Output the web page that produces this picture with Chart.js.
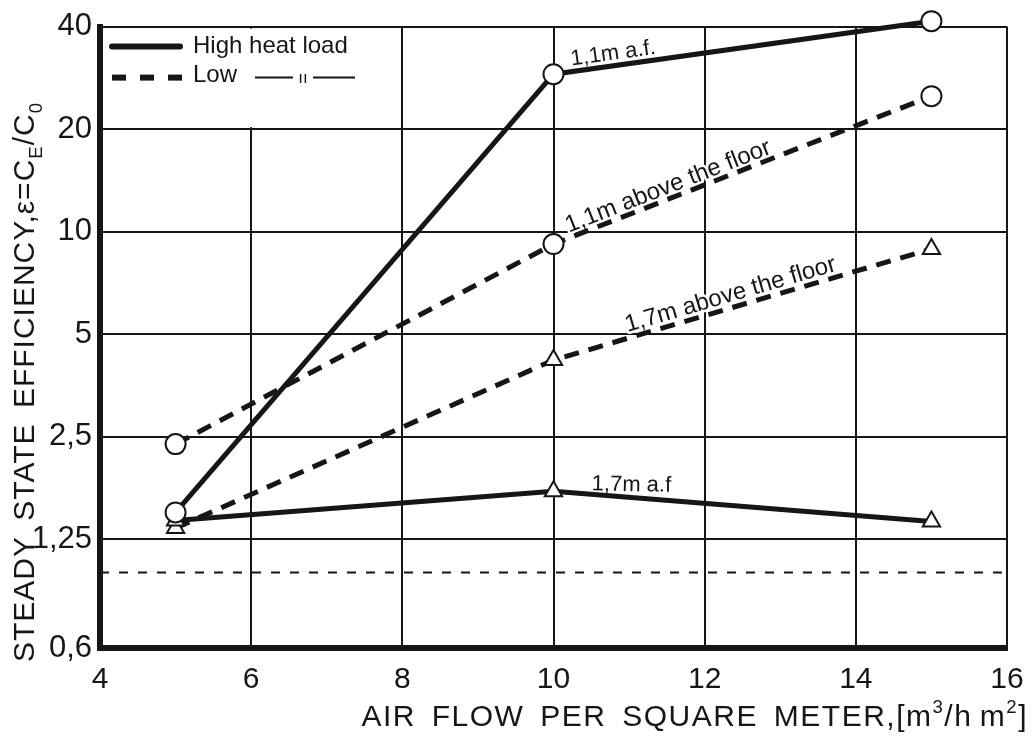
<!DOCTYPE html>
<html>
<head>
<meta charset="utf-8">
<script src="https://cdn.jsdelivr.net/npm/chart.js@4/dist/chart.umd.min.js"></script>
<style>
  body { margin: 0; background: #fff; }
  #wrap { width: 1035px; height: 738px; position: relative; }
</style>
</head>
<body>
<div id="wrap"><canvas id="myChart"></canvas></div>
<script>
const graph = document.querySelector("#myChart");

//---- datos: caudal de aire por m2 y eficiencia de cada serie ----
const flowPerM2 = [5, 10, 15];

const highLoad11 = [1.5, 29, 41.5];
const highLoad17 = [1.42, 1.73, 1.41];
const lowLoad11 = [2.38, 9.2, 25];
const lowLoad17 = [1.35, 4.2, 8.9];

// linea de referencia (eficiencia = 1)
const refFlow = [4, 16];
const refLevel = [1, 1];

const yTicks = [0.6, 1.25, 2.5, 5, 10, 20, 40];
const yTickLabels = ["0,6", "1,25", "2,5", "5", "10", "20", "40"];

const legendLabels = ["High heat load", "Low"];
const legendDitto = "ıı";

const xTitleParts = [
  { text: "AIR FLOW PER SQUARE METER,[m" },
  { text: "3", shift: "sup" },
  { text: "/h\u2009m" },
  { text: "2", shift: "sup" },
  { text: "]" },
];
const yTitleParts = [
  { text: "STEADY STATE EFFICIENCY,ε=C" },
  { text: "E", shift: "sub" },
  { text: "/C" },
  { text: "0", shift: "sub" },
];

// rotulos sobre las lineas (serie, tramo, posicion en el tramo)
const lineLabels = [
  { text: "1,1m a.f.", series: 0, seg: 1, t: 0.05, off: 6, size: 22 },
  { text: "1,7m a.f", series: 1, seg: 1, t: 0.1, off: 4, size: 22, angle: 1 },
  { text: "1,1m above the floor", series: 2, seg: 1, t: 0.045, off: 5, size: 24 },
  { text: "1,7m above the floor", series: 3, seg: 1, t: 0.2, off: 6, size: 24 },
];

const fontFamily = "'Liberation Sans', 'DejaVu Sans', sans-serif";
const ink = "#161616";

const toPoints = (xs, ys) => xs.map((x, i) => ({ x: x, y: ys[i] }));

// texto con sub/superindices sobre una misma linea base
const richWidth = (ctx, parts, size) => {
  let w = 0;
  parts.forEach((p) => {
    ctx.font = `${p.shift ? size * 0.62 : size}px ${fontFamily}`;
    w += ctx.measureText(p.text).width;
  });
  return w;
};

const drawRich = (ctx, parts, size) => {
  let x = 0;
  parts.forEach((p) => {
    ctx.font = `${p.shift ? size * 0.62 : size}px ${fontFamily}`;
    let dy = 0;
    if (p.shift === "sub") dy = size * 0.28;
    if (p.shift === "sup") dy = -size * 0.42;
    ctx.fillText(p.text, x, dy);
    x += ctx.measureText(p.text).width;
  });
};

const decorPlugin = {
  id: "decor",
  beforeDatasetsDraw(chart) {
    const { ctx, chartArea, scales } = chart;
    const left = chartArea.left;
    const top = chartArea.top;
    ctx.save();

    // fondo de la leyenda (corta la reticula)
    const boxRight = scales.x.getPixelForValue(8) - 3;
    const boxBottom = scales.y.getPixelForValue(20) - 2;
    ctx.fillStyle = "#fff";
    ctx.fillRect(left + 4, top + 2, boxRight - left - 4, boxBottom - top - 2);

    // leyenda
    const lx = left + 12;
    const row1 = top + 20;
    const row2 = top + 51;
    ctx.strokeStyle = ink;
    ctx.lineWidth = 6;
    ctx.lineCap = "round";
    ctx.beginPath();
    ctx.moveTo(lx, row1);
    ctx.lineTo(lx + 68, row1);
    ctx.stroke();

    ctx.lineCap = "butt";
    ctx.setLineDash([14, 14]);
    ctx.beginPath();
    ctx.moveTo(lx, row2);
    ctx.lineTo(lx + 70, row2);
    ctx.stroke();
    ctx.setLineDash([]);

    ctx.fillStyle = ink;
    ctx.font = `24px ${fontFamily}`;
    ctx.textBaseline = "middle";
    ctx.textAlign = "left";
    ctx.fillText(legendLabels[0], lx + 81, row1);
    ctx.fillText(legendLabels[1], lx + 81, row2 - 2);

    ctx.lineWidth = 2;
    ctx.beginPath();
    ctx.moveTo(lx + 143, row2);
    ctx.lineTo(lx + 181, row2);
    ctx.moveTo(lx + 201, row2);
    ctx.lineTo(lx + 243, row2);
    ctx.stroke();
    ctx.font = `17px ${fontFamily}`;
    ctx.textAlign = "center";
    ctx.textBaseline = "alphabetic";
    ctx.fillText(legendDitto, lx + 191, row2 + 5);

    // rotulos de cada curva
    lineLabels.forEach((lab) => {
      const pts = chart.getDatasetMeta(lab.series).data;
      const p0 = pts[lab.seg];
      const p1 = pts[lab.seg + 1];
      const px = p0.x + (p1.x - p0.x) * lab.t;
      const py = p0.y + (p1.y - p0.y) * lab.t;
      const segAngle = Math.atan2(p1.y - p0.y, p1.x - p0.x);
      const ang = lab.angle !== undefined ? (lab.angle * Math.PI) / 180 : segAngle;
      ctx.save();
      ctx.translate(px, py);
      ctx.rotate(segAngle);
      ctx.translate(0, -lab.off);
      ctx.rotate(ang - segAngle);
      ctx.font = `${lab.size}px ${fontFamily}`;
      ctx.textAlign = "left";
      ctx.textBaseline = "alphabetic";
      ctx.lineWidth = 5;
      ctx.strokeStyle = "#fff";
      ctx.lineJoin = "round";
      ctx.strokeText(lab.text, 0, 0);
      ctx.fillStyle = ink;
      ctx.fillText(lab.text, 0, 0);
      ctx.restore();
    });

    ctx.restore();
  },
  afterDraw(chart) {
    const { ctx } = chart;
    ctx.save();
    ctx.fillStyle = ink;
    ctx.textAlign = "left";
    ctx.textBaseline = "alphabetic";

    // titulo eje y (vertical)
    ctx.letterSpacing = "1px";
    ctx.wordSpacing = "6px";
    ctx.save();
    ctx.translate(34, 662);
    ctx.rotate(-Math.PI / 2);
    drawRich(ctx, yTitleParts, 30);
    ctx.restore();

    // titulo eje x, alineado a la derecha
    ctx.letterSpacing = "1.5px";
    ctx.wordSpacing = "6px";
    const w = richWidth(ctx, xTitleParts, 30);
    ctx.save();
    ctx.translate(chart.width - 7 - w, 726);
    drawRich(ctx, xTitleParts, 30);
    ctx.restore();

    ctx.restore();
  },
};

const pointStyleFor = (style) => ({
  pointStyle: style,
  pointRadius: 10,
  pointBorderWidth: 2,
  pointBorderColor: ink,
  pointBackgroundColor: "#fff",
});

const effChart = new Chart(graph, {
  type: "line",
  data: {
    datasets: [
      {
        label: "High heat load 1,1m",
        data: toPoints(flowPerM2, highLoad11),
        borderColor: ink,
        borderWidth: 5,
        ...pointStyleFor("circle"),
      },
      {
        label: "High heat load 1,7m",
        data: toPoints(flowPerM2, highLoad17),
        borderColor: ink,
        borderWidth: 5,
        ...pointStyleFor("triangle"),
      },
      {
        label: "Low 1,1m",
        data: toPoints(flowPerM2, lowLoad11),
        borderColor: ink,
        borderWidth: 5,
        borderDash: [15, 10],
        ...pointStyleFor("circle"),
      },
      {
        label: "Low 1,7m",
        data: toPoints(flowPerM2, lowLoad17),
        borderColor: ink,
        borderWidth: 5,
        borderDash: [15, 10],
        ...pointStyleFor("triangle"),
      },
      {
        label: "ref",
        data: toPoints(refFlow, refLevel),
        borderColor: ink,
        borderWidth: 2,
        borderDash: [9, 10],
        pointRadius: 0,
      },
    ],
  },
  options: {
    responsive: true,
    maintainAspectRatio: false,
    animation: false,
    events: [],
    clip: false,
    layout: { padding: { top: 25, right: 28, left: 0, bottom: 0 } },
    elements: { line: { tension: 0 } },
    scales: {
      x: {
        type: "linear",
        min: 4,
        max: 16,
        afterFit: (axis) => {
          axis.height = 90;
          axis.paddingLeft = 0;
          axis.paddingRight = 0;
        },
        ticks: {
          stepSize: 2,
          padding: 14,
          maxRotation: 0,
          color: ink,
          font: { size: 30, family: fontFamily },
        },
        grid: { color: ink, lineWidth: 2, drawTicks: false },
        border: { color: ink, width: 6 },
      },
      y: {
        type: "logarithmic",
        min: 0.6,
        max: 40,
        afterFit: (axis) => {
          axis.width = 100;
        },
        afterBuildTicks: (axis) => {
          axis.ticks = yTicks.map((v) => ({ value: v }));
        },
        ticks: {
          autoSkip: false,
          padding: 8,
          color: ink,
          font: { size: 31, family: fontFamily },
          callback: (value) => {
            const i = yTicks.indexOf(value);
            return i >= 0 ? yTickLabels[i] : "";
          },
        },
        grid: { color: ink, lineWidth: 2, drawTicks: false },
        border: { color: ink, width: 6 },
      },
    },
    plugins: {
      legend: { display: false },
      tooltip: { enabled: false },
    },
  },
  plugins: [decorPlugin],
});
</script>
</body>
</html>
